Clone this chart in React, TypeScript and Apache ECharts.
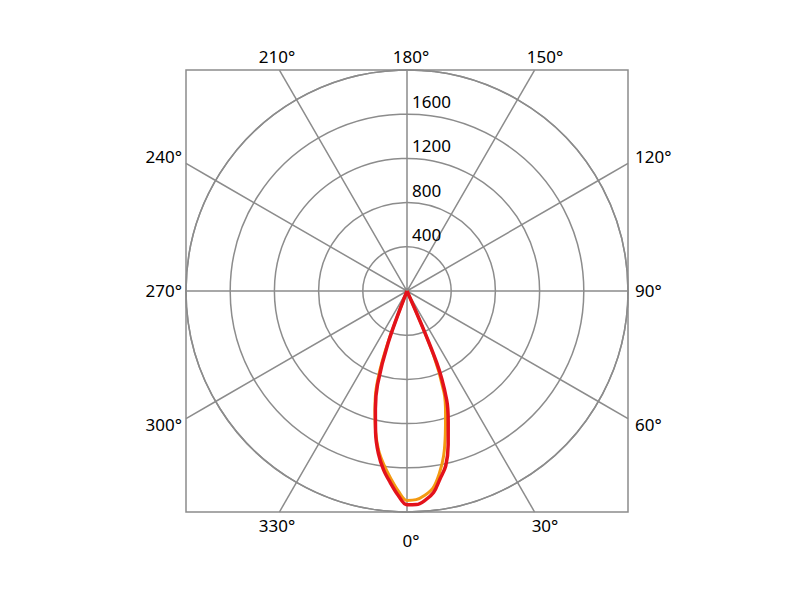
import React, { useEffect, useRef } from "react";
import * as echarts from "echarts";

// ---- data ----
const angles = [337.5, 340, 342.5, 345, 347.5, 350, 352.5, 355, 357.5, 0, 2.5, 5, 7.5, 10, 12.5, 15, 17.5, 20, 22.5, 25];
const redValues = [0, 500, 885, 1105, 1313, 1492, 1630, 1740, 1850, 1935, 1935, 1900, 1840, 1725, 1620, 1440, 1240, 1050, 700, 0];
const orangeValues = [0, 570, 930, 1120, 1310, 1470, 1590, 1700, 1810, 1895, 1890, 1855, 1800, 1680, 1530, 1340, 1160, 980, 620, 0];
const angleLabels = [0, 30, 60, 90, 120, 150, 180, 210, 240, 270, 300, 330];
const radiusLabels = [400, 800, 1200, 1600];

// ---- layout ----
const CX = 407;
const CY = 291;
const R = 221;
const GRID = "#8c8c8c";
const FONT = '"Noto Sans", sans-serif';

function buildGraphic() {
  const els: any[] = [];
  els.push({
    type: "rect",
    shape: { x: CX - R, y: CY - R, width: 2 * R, height: 2 * R },
    style: { fill: "none", stroke: GRID, lineWidth: 1.5 },
    z: 0,
  });
  angleLabels.forEach((a) => {
    const rad = (a * Math.PI) / 180;
    const s = Math.sin(rad);
    const c = Math.cos(rad);
    const t = R / Math.max(Math.abs(s), Math.abs(c));
    if (t - R > 0.5) {
      els.push({
        type: "line",
        shape: { x1: CX + R * s, y1: CY + R * c, x2: CX + t * s, y2: CY + t * c },
        style: { stroke: GRID, lineWidth: 1.5 },
        z: 0,
      });
    }
    let x: number, y: number, align: string;
    if (Math.abs(s) > 0.6) {
      y = CY + 268 * c - 1;
      if (s > 0) {
        x = CX + R + 7;
        align = "left";
      } else {
        x = CX - R - 4;
        align = "right";
      }
    } else {
      x = CX + 268 * s + 4;
      align = "center";
      if (c > 0) {
        y = CY + R + (a === 0 ? 28 : 13);
      } else {
        y = CY - R - 14;
      }
    }
    els.push({
      type: "text",
      x,
      y,
      style: {
        text: a + "°",
        fill: "#000",
        fontSize: 17,
        fontFamily: FONT,
        align,
        verticalAlign: "middle",
        textAlign: align,
        textVerticalAlign: "middle",
      },
      z: 10,
    });
  });
  return els;
}

export default function App() {
  const ref = useRef<HTMLDivElement>(null);
  useEffect(() => {
    if (!ref.current) return;
    const chart = echarts.init(ref.current, null, { renderer: "svg" });
    const toPairs = (vals: number[]) => vals.map((v, i) => [v, angles[i]]);
    chart.setOption({
      animation: false,
      backgroundColor: "#fff",
      polar: { center: [CX, CY], radius: R },
      angleAxis: {
        type: "value",
        min: -180,
        max: 180,
        interval: 30,
        startAngle: 90,
        clockwise: false,
        axisLine: { show: true, lineStyle: { color: GRID, width: 1.5 } },
        axisTick: { show: false },
        axisLabel: { show: false },
        splitLine: { show: true, lineStyle: { color: GRID, width: 1.5 } },
      },
      radiusAxis: {
        type: "value",
        min: 0,
        max: 2000,
        interval: 400,
        axisLine: { show: false },
        axisTick: { show: false },
        axisLabel: {
          show: true,
          margin: -5,
          align: "left",
          verticalAlign: "bottom",
          padding: [0, 0, 4, 0],
          color: "#000",
          fontSize: 17,
          fontFamily: FONT,
          formatter: (v: number) => (radiusLabels.indexOf(v) >= 0 ? String(v) : ""),
        },
        splitLine: { show: true, lineStyle: { color: GRID, width: 1.5 } },
      },
      graphic: buildGraphic(),
      series: [
        {
          type: "line",
          coordinateSystem: "polar",
          data: toPairs(orangeValues),
          showSymbol: false,
          smooth: 0.35,
          lineStyle: { color: "#f39a12", width: 3 },
          z: 3,
        },
        {
          type: "line",
          coordinateSystem: "polar",
          data: toPairs(redValues),
          showSymbol: false,
          smooth: 0.35,
          lineStyle: { color: "#e3121b", width: 3.5 },
          z: 4,
        },
      ],
    });
    return () => chart.dispose();
  }, []);
  return (
    <div
      ref={ref}
      style={{ position: "fixed", left: 0, top: 0, width: 800, height: 600 }}
    />
  );
}
